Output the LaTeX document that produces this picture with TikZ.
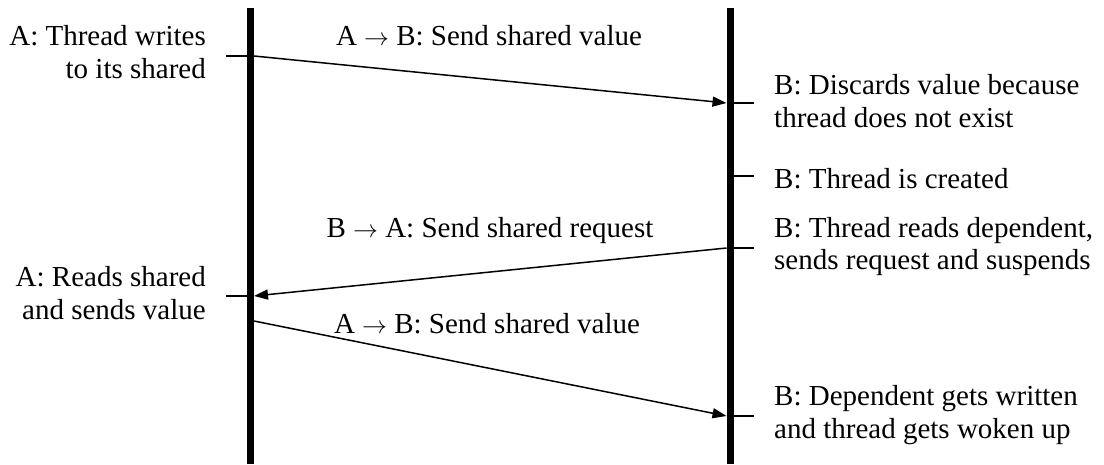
\documentclass[tikz,border=0pt]{standalone}
\usepackage{fontspec}
\setmainfont{Liberation Serif}
\usetikzlibrary{arrows.meta}

\newcommand{\sendto}{\ensuremath{\rightarrow}}

\tikzset{
  lifeline/.style={line width=7pt},
  tickmark/.style={line width=1.5pt},
  message/.style={line width=1.5pt, -{Triangle[length=14pt,width=10pt]}},
  txt/.style={inner sep=0pt, font=\fontsize{29pt}{32.5pt}\selectfont},
  lefttxt/.style={txt, align=right, anchor=east},
  righttxt/.style={txt, align=left, anchor=west},
  msgtxt/.style={txt, anchor=base},
}

\begin{document}
\begin{tikzpicture}[x=1pt, y=-1pt]
  \useasboundingbox (0,0) rectangle (1104,464);

  % process lifelines
  \coordinate (Atop) at (250.5,8);
  \coordinate (Abot) at (250.5,464);
  \coordinate (Btop) at (730,8);
  \coordinate (Bbot) at (730,464);
  \draw[lifeline] (Atop) -- (Abot);
  \draw[lifeline] (Btop) -- (Bbot);

  % event marks on process A
  \coordinate (A1o) at (226,56);  \coordinate (A1) at (250.5,56);
  \coordinate (A2o) at (226,296); \coordinate (A2) at (250.5,296);
  % event marks on process B
  \coordinate (B1) at (730,103);  \coordinate (B1o) at (754,103);
  \coordinate (B2) at (730,176);  \coordinate (B2o) at (754,176);
  \coordinate (B3) at (730,248);  \coordinate (B3o) at (754,248);
  \coordinate (B4) at (730,416);  \coordinate (B4o) at (754,416);

  \foreach \p/\q in {A1o/A1, A2o/A2, B1/B1o, B2/B2o, B3/B3o, B4/B4o}
    \draw[tickmark] (\p) -- (\q);

  % message end points on the edges of the lifelines
  \coordinate (m1s) at (254,56);  \coordinate (m1e) at (726.5,103);
  \coordinate (m2s) at (726.5,248); \coordinate (m2e) at (254,296);
  \coordinate (m3s) at (254,321); \coordinate (m3e) at (726.5,416);

  \draw[message] (m1s) -- (m1e);
  \draw[message] (m2s) -- (m2e);
  \draw[message] (m3s) -- (m3e);

  % message labels
  \node[msgtxt] (l1) at (489,45)  {A \sendto{} B: Send shared value};
  \node[msgtxt] (l2) at (490,237) {B \sendto{} A: Send shared request};
  \node[msgtxt] (l3) at (487,333) {A \sendto{} B: Send shared value};

  % event descriptions of A
  \node[lefttxt] (ta1) at (206,52)  {A: Thread writes\\to its shared};
  \node[lefttxt] (ta2) at (206,293) {A: Reads shared\\and sends value};

  % event descriptions of B
  \node[righttxt] (tb1) at (774,101)   {B: Discards value because\\thread does not exist};
  \node[righttxt] (tb2) at (774,179)   {B: Thread is created};
  \node[righttxt] (tb3) at (774,246.5) {B: Thread reads dependent,\\sends request and suspends};
  \node[righttxt] (tb4) at (774,415)   {B: Dependent gets written\\and thread gets woken up};
\end{tikzpicture}
\end{document}
